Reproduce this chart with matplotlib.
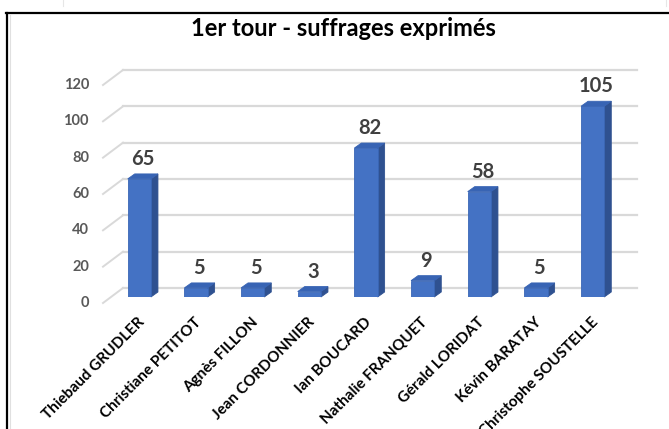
import matplotlib
matplotlib.use("Agg")
import matplotlib.pyplot as plt
from matplotlib.patches import Polygon
from matplotlib.lines import Line2D
from matplotlib.transforms import offset_copy

plt.rcParams['font.family'] = ['Lato', 'DejaVu Sans']

title = "1er tour - suffrages exprimés"
candidates = ["Thiebaud GRUDLER", "Christiane PETITOT", "Agnès FILLON",
              "Jean CORDONNIER", "Ian BOUCARD", "Nathalie FRANQUET",
              "Gérald LORIDAT", "Kévin BARATAY", "Christophe SOUSTELLE"]
votes = [65, 5, 5, 3, 82, 9, 58, 5, 105]
yticks = [0, 20, 40, 60, 80, 100, 120]

W, H, DPI = 669, 429, 100
fig = plt.figure(figsize=(W / DPI, H / DPI), dpi=DPI)

# axes placed in pixels (bar plane)
ax_l, ax_r, ax_b, ax_t = 111, 621, 297, 79
ax = fig.add_axes([ax_l / W, 1 - ax_b / H, (ax_r - ax_l) / W, (ax_b - ax_t) / H])
n = len(candidates)
ax.set_xlim(-0.5, n - 0.5)
ax.set_ylim(0, 120)
ax.axis('off')

ppx = (ax_r - ax_l) / n          # pixels per category
ppy = (ax_b - ax_t) / 120.0      # pixels per unit

# back-wall gridlines and floor diagonals
back = offset_copy(ax.transData, fig=fig, x=12, y=9, units='dots')
grid_c = '#D9D9D9'
for v in yticks:
    ax.plot([-0.5, n - 0.5 + 4 / ppx], [v, v], color=grid_c, lw=1.6,
            transform=back, clip_on=False, zorder=1)
    x0 = -0.5 + 12 / ppx
    y0 = v + 9 / ppy
    x1 = -0.5 - 8 / ppx
    y1 = v - 6 / ppy
    ax.plot([x0, x1], [y0, y1], color=grid_c, lw=1.4, clip_on=False, zorder=1)
    ax.text(x1 - 14 / ppx, y1, str(v), ha='right', va='center', fontsize=10.5,
            fontweight='bold', color='#595959', clip_on=False)

# 3D-like bars
bw = 0.41
ddx = 7 / ppx
ddy = 5 / ppy
front_c = '#4472C4'
side_c = '#2F5190'
top_c = '#3864B4'
for i, v in enumerate(votes):
    xl, xr = i - bw / 2, i + bw / 2
    ax.add_patch(Polygon([(xr, 0), (xr + ddx, ddy), (xr + ddx, v + ddy), (xr, v)],
                         closed=True, facecolor=side_c, edgecolor=side_c, lw=0.6,
                         zorder=3, clip_on=False))
    ax.add_patch(Polygon([(xl, v), (xl + ddx, v + ddy), (xr + ddx, v + ddy), (xr, v)],
                         closed=True, facecolor=top_c, edgecolor=top_c, lw=0.6,
                         zorder=3, clip_on=False))
ax.bar(range(n), votes, width=bw, color=front_c, edgecolor='#3A66B5', lw=0.6,
       zorder=4)
for i, v in enumerate(votes):
    ax.annotate(str(v), xy=(i + ddx / 2, v), xytext=(0, 20), textcoords='offset pixels',
                ha='center', va='center', fontsize=14.5, fontweight='bold',
                color='#404040', annotation_clip=False)

# category labels
for i, name in enumerate(candidates):
    ax.annotate(name, xy=(i, 0), xytext=(-2, -18), textcoords='offset pixels',
                ha='right', va='top', rotation=45, rotation_mode='anchor',
                fontsize=11, fontweight='bold', color='black',
                annotation_clip=False)

# title
fig.text(343 / W, 1 - 28 / H, title, ha='center', va='center',
         fontsize=17, fontweight='bold', color='black')

# chart frame
fig.add_artist(Line2D([7 / W, 7 / W], [0, 1 - 13 / H], transform=fig.transFigure,
                      color='black', lw=1.6))
fig.add_artist(Line2D([6 / W, 1], [1 - 13 / H, 1 - 13 / H], transform=fig.transFigure,
                      color='black', lw=1.6))
fig.add_artist(Line2D([9.5 / W, 9.5 / W], [0, 1 - 15 / H], transform=fig.transFigure,
                      color='#E0E0E0', lw=0.8))
fig.add_artist(Line2D([63 / W, 63 / W], [1, 1 - 6 / H], transform=fig.transFigure,
                      color='#E6E6E6', lw=0.8))
fig.add_artist(Line2D([666 / W, 666 / W], [1, 1 - 6 / H], transform=fig.transFigure,
                      color='#E6E6E6', lw=0.8))

fig.savefig("out.png", dpi=DPI, facecolor='white')
